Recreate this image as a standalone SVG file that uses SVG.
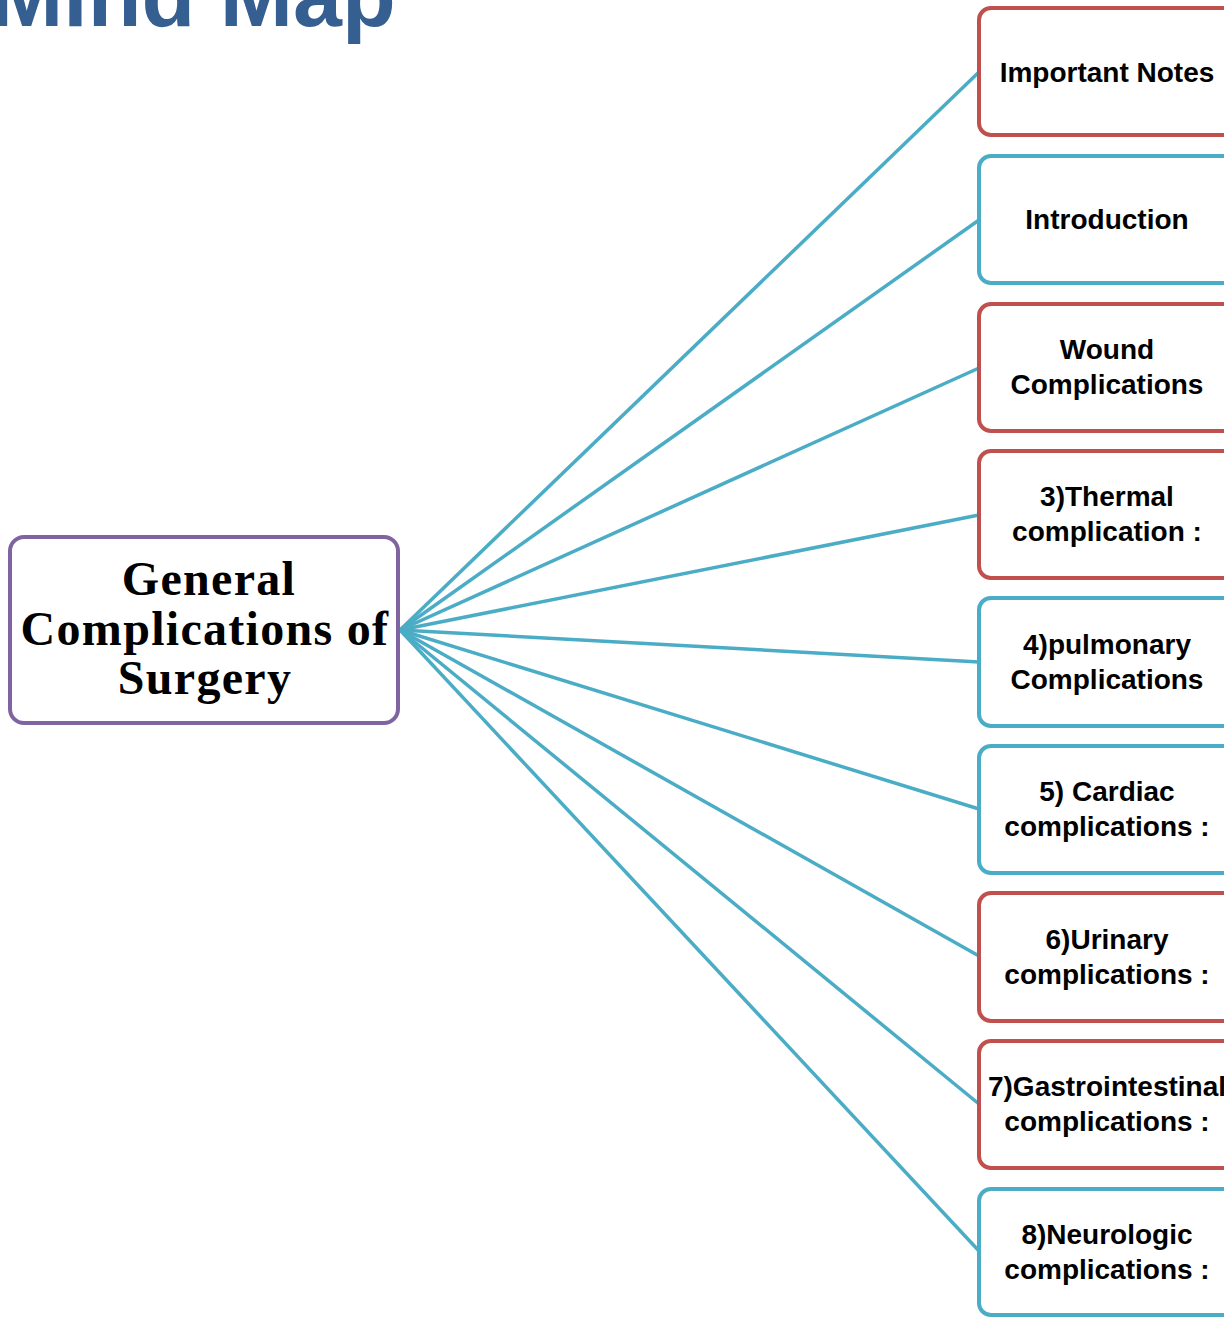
<svg xmlns="http://www.w3.org/2000/svg" width="1224" height="1317" viewBox="0 0 1224 1317">
<style>
.title{font-family:"Liberation Sans","Open Sans",sans-serif;font-weight:bold;font-size:88px;fill:#365F91}
.box{fill:#fff;stroke-width:4}
.red{stroke:#C0504D}
.blue{stroke:#4BACC6}
.purple{stroke:#8064A2}
.lbl{font-family:"Liberation Sans","Open Sans",sans-serif;font-weight:bold;font-size:28px;fill:#000;text-anchor:middle}
.main{font-family:"Liberation Serif","DejaVu Serif",serif;font-weight:bold;font-size:48px;letter-spacing:1.3px;fill:#000;text-anchor:middle}
.conn{stroke:#4BACC6;stroke-width:3.5;fill:none}
</style>
<text class="title" x="-10" y="26">Mind Map</text>
<g id="connectors">
<line class="conn" x1="400" y1="630" x2="979" y2="72"/>
<line class="conn" x1="400" y1="630" x2="979" y2="220"/>
<line class="conn" x1="400" y1="630" x2="979" y2="368"/>
<line class="conn" x1="400" y1="630" x2="979" y2="515"/>
<line class="conn" x1="400" y1="630" x2="979" y2="662"/>
<line class="conn" x1="400" y1="630" x2="979" y2="809"/>
<line class="conn" x1="400" y1="630" x2="979" y2="956"/>
<line class="conn" x1="400" y1="630" x2="979" y2="1104"/>
<line class="conn" x1="400" y1="630" x2="979" y2="1251"/>
</g>
<g id="center">
<rect class="box purple" x="10" y="537" width="388" height="186" rx="14"/>
<text class="main" x="209" y="595">General</text>
<text class="main" x="205" y="645">Complications of</text>
<text class="main" x="205" y="694">Surgery</text>
</g>
<g id="n1"><rect class="box red" x="979" y="8" width="260" height="127" rx="12"/><text class="lbl" x="1107" y="82">Important Notes</text></g>
<g id="n2"><rect class="box blue" x="979" y="156" width="260" height="127" rx="12"/><text class="lbl" x="1107" y="229">Introduction</text></g>
<g id="n3"><rect class="box red" x="979" y="304" width="260" height="127" rx="12"/><text class="lbl" x="1107" y="359">Wound</text><text class="lbl" x="1107" y="394">Complications</text></g>
<g id="n4"><rect class="box red" x="979" y="451" width="260" height="127" rx="12"/><text class="lbl" x="1107" y="506">3)Thermal</text><text class="lbl" x="1107" y="541">complication :</text></g>
<g id="n5"><rect class="box blue" x="979" y="598" width="260" height="128" rx="12"/><text class="lbl" x="1107" y="654">4)pulmonary</text><text class="lbl" x="1107" y="689">Complications</text></g>
<g id="n6"><rect class="box blue" x="979" y="746" width="260" height="127" rx="12"/><text class="lbl" x="1107" y="801">5) Cardiac</text><text class="lbl" x="1107" y="836">complications :</text></g>
<g id="n7"><rect class="box red" x="979" y="893" width="260" height="128" rx="12"/><text class="lbl" x="1107" y="949">6)Urinary</text><text class="lbl" x="1107" y="984">complications :</text></g>
<g id="n8"><rect class="box red" x="979" y="1041" width="260" height="127" rx="12"/><text class="lbl" x="1107" y="1096">7)Gastrointestinal</text><text class="lbl" x="1107" y="1131">complications :</text></g>
<g id="n9"><rect class="box blue" x="979" y="1189" width="260" height="126" rx="12"/><text class="lbl" x="1107" y="1244">8)Neurologic</text><text class="lbl" x="1107" y="1279">complications :</text></g>
</svg>
